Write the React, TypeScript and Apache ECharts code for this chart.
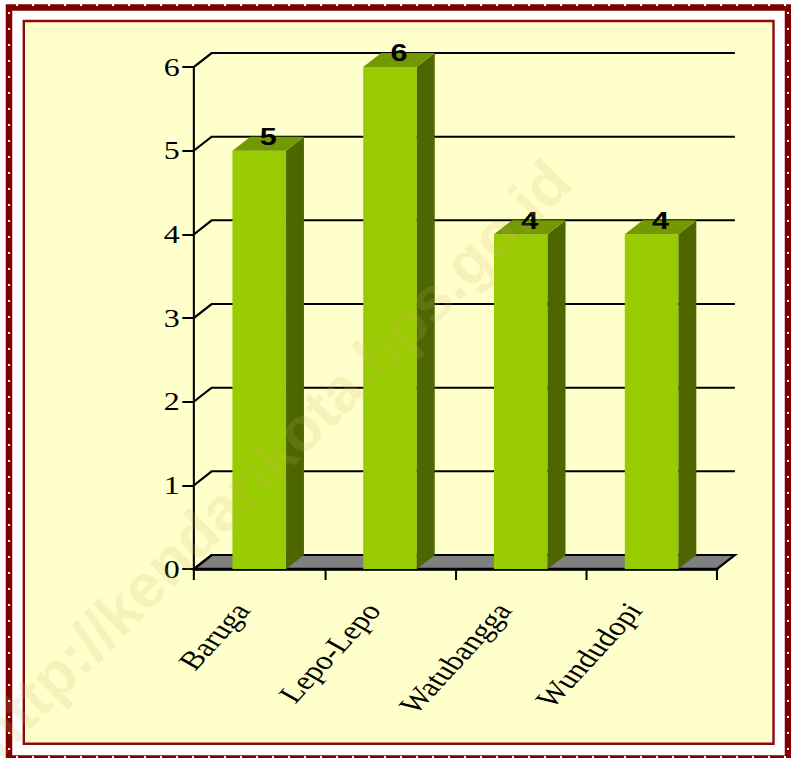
import React, { useEffect, useRef } from 'react';
import * as echarts from 'echarts';

const categories = ['Baruga', 'Lepo-Lepo', 'Watubangga', 'Wundudopi'];
const values = [5, 6, 4, 4];
const yTicks = [0, 1, 2, 3, 4, 5, 6];
const yMin = 0;
const yMax = 6;
const yInterval = 1;
const watermark = 'http://kendarikota.bps.go.id';

const CHART_W = 584;
const STRETCH = 747 / CHART_W;
const DX = 14;
const DY = 14;

const serif = '"Times New Roman", "Liberation Serif", serif';
const sans = 'Arial, "Liberation Sans", sans-serif';

export default function App() {
  const chartRef = useRef<HTMLDivElement>(null);
  const frameRef = useRef<HTMLDivElement>(null);

  useEffect(() => {
    const chart = echarts.init(chartRef.current!, undefined, { renderer: 'svg' });
    chart.setOption({
      animation: false,
      backgroundColor: '#FFFFCC',
      grid: { left: 132, top: 45, width: 409, height: 502 },
      xAxis: {
        type: 'category',
        data: categories,
        axisLine: { show: true, lineStyle: { color: '#000', width: 2.5 } },
        axisTick: { show: true, length: 11, lineStyle: { color: '#000', width: 1.6 } },
        axisLabel: {
          rotate: 54,
          margin: 18,
          padding: [0, 23, 0, 0],
          fontFamily: serif,
          fontSize: 26,
          color: '#000',
        },
        splitLine: { show: false },
      },
      yAxis: {
        type: 'value',
        min: yMin,
        max: yMax,
        interval: yInterval,
        axisLine: { show: true, lineStyle: { color: '#000', width: 1.6 } },
        axisTick: { show: true, length: 9, lineStyle: { color: '#000', width: 2 } },
        axisLabel: { margin: 11, fontFamily: serif, fontSize: 25, color: '#000' },
        splitLine: { show: false },
      },
      series: [
        {
          type: 'custom',
          z: 1,
          clip: false,
          silent: true,
          data: yTicks.map((v) => [0, v]),
          encode: { x: 0, y: 1 },
          renderItem: (params: any, api: any) => {
            const cs = params.coordSys;
            const L = cs.x;
            const R = cs.x + cs.width;
            const v = api.value(1);
            const y = api.coord([0, v])[1];
            const children: any[] = [];
            if (v === 0) {
              children.push({
                type: 'polygon',
                shape: { points: [[L, y], [R, y], [R + DX, y - DY], [L + DX, y - DY]] },
                style: { fill: '#808080', stroke: '#000', lineWidth: 2 },
              });
              children.push({
                type: 'line',
                shape: { x1: L, y1: y, x2: R, y2: y },
                style: { stroke: '#000', lineWidth: 2.5 },
              });
            }
            children.push({
              type: 'polyline',
              shape: { points: [[L, y], [L + DX, y - DY], [R + DX, y - DY]] },
              style: { stroke: '#000', lineWidth: 2, fill: null },
            });
            return { type: 'group', children };
          },
        },
        {
          type: 'custom',
          z: 3,
          clip: false,
          data: values.map((v, i) => [i, v]),
          encode: { x: 0, y: 1 },
          renderItem: (params: any, api: any) => {
            const i = api.value(0);
            const v = api.value(1);
            const top = api.coord([i, v]);
            const base = api.coord([i, 0]);
            const bw = api.size([1, 0])[0] * 0.41;
            const xl = top[0] - bw / 2;
            const xr = top[0] + bw / 2;
            const yt = top[1];
            const yb = base[1];
            return {
              type: 'group',
              children: [
                { type: 'rect', shape: { x: xl, y: yt, width: bw, height: yb - yt }, style: { fill: '#99CC00' } },
                {
                  type: 'polygon',
                  shape: { points: [[xr, yt], [xr + DX, yt - DY], [xr + DX, yb - DY], [xr, yb]] },
                  style: { fill: '#4D6600' },
                },
                {
                  type: 'polygon',
                  shape: { points: [[xl, yt], [xr, yt], [xr + DX, yt - DY], [xl + DX, yt - DY]] },
                  style: { fill: '#739900' },
                },
                {
                  type: 'text',
                  x: top[0] + DX / 2,
                  y: yt - DY,
                  style: {
                    text: String(v),
                    fontSize: 24,
                    fontWeight: 'bold',
                    fontFamily: sans,
                    fill: '#000',
                    align: 'center',
                    verticalAlign: 'middle',
                  },
                },
              ],
            };
          },
        },
      ],
    });

    const frame = echarts.init(frameRef.current!, undefined, { renderer: 'svg' });
    const graphics: any[] = [];
    graphics.push({
      type: 'rect',
      silent: true,
      shape: { x: 9, y: 7.5, width: 779, height: 751 },
      style: { fill: 'transparent', stroke: '#800000', lineWidth: 6.5 },
    });
    graphics.push({
      type: 'rect',
      silent: true,
      shape: { x: 23.8, y: 21, width: 749.7, height: 722.8 },
      style: { fill: 'transparent', stroke: '#8B0A0A', lineWidth: 2.4 },
    });
    for (let y = 12; y < 758; y += 16) {
      graphics.push({ type: 'rect', silent: true, shape: { x: 8, y, width: 2, height: 2 }, style: { fill: '#fff' } });
      graphics.push({ type: 'rect', silent: true, shape: { x: 787, y, width: 2, height: 2 }, style: { fill: '#fff' } });
    }
    for (let x = 16; x < 786; x += 16) {
      graphics.push({ type: 'rect', silent: true, shape: { x, y: 4, width: 2, height: 2 }, style: { fill: '#fff' } });
      graphics.push({ type: 'rect', silent: true, shape: { x, y: 756, width: 2, height: 2 }, style: { fill: '#fff' } });
    }
    graphics.push({
      type: 'text',
      silent: true,
      x: 272,
      y: 458,
      rotation: Math.PI / 4,
      style: {
        text: watermark,
        fontSize: 62,
        fontWeight: 'bold',
        fontFamily: sans,
        fill: 'rgba(200,180,90,0.17)',
        align: 'center',
        verticalAlign: 'middle',
      },
    });
    frame.setOption({ animation: false, backgroundColor: 'transparent', graphic: graphics });

    return () => {
      chart.dispose();
      frame.dispose();
    };
  }, []);

  return (
    <div style={{ position: 'absolute', left: 0, top: 0, width: 791, height: 758, overflow: 'hidden', background: '#fff' }}>
      <div
        ref={chartRef}
        style={{
          position: 'absolute',
          left: 25,
          top: 22,
          width: CHART_W,
          height: 721,
          transform: `scaleX(${STRETCH})`,
          transformOrigin: '0 0',
        }}
      />
      <div ref={frameRef} style={{ position: 'absolute', left: 0, top: 0, width: 791, height: 758, pointerEvents: 'none' }} />
    </div>
  );
}
